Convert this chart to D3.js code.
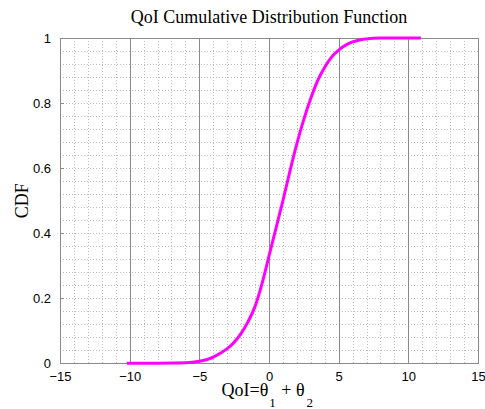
<!DOCTYPE html>
<html>
<head>
<meta charset="utf-8">
<script src="https://cdn.jsdelivr.net/npm/d3@7"></script>
<style>
  html, body { margin: 0; padding: 0; background: #fff; }
  svg { display: block; }
</style>
</head>
<body>
<svg id="chart" width="485" height="409"></svg>
<script>
// Empirical CDF of the quantity of interest
const qoiValues = [-10.2, -8, -6.5, -5.5, -5, -4.5, -4, -3.5, -3, -2.5, -2, -1.5, -1, -0.5, 0, 0.5, 1, 1.5, 2, 2.5, 3, 3.5, 4, 4.5, 5, 5.5, 6, 6.5, 7, 7.5, 8, 9, 10.9];
const cdfValues = [0, 0.0005, 0.001, 0.003, 0.006, 0.011, 0.019, 0.031, 0.045, 0.065, 0.092, 0.128, 0.175, 0.245, 0.33, 0.415, 0.50, 0.59, 0.675, 0.75, 0.815, 0.87, 0.91, 0.942, 0.963, 0.978, 0.988, 0.994, 0.997, 0.999, 1, 1, 1];

const xTicks = [-15, -10, -5, 0, 5, 10, 15];
const yTicks = [0, 0.2, 0.4, 0.6, 0.8, 1];
const xMinorGrid = d3.range(-15, 15.01, 1);
const yMinorGrid = d3.range(0, 1.001, 0.04);
const xMajorLines = [-10, -5, 0, 5, 10];

const svg = d3.select("#chart");
const plotLeft = 60, plotRight = 478, plotTop = 38, plotBottom = 363.3;

const x = d3.scaleLinear().domain([-15, 15]).range([plotLeft, plotRight]);
const y = d3.scaleLinear().domain([0, 1]).range([plotBottom, plotTop]);

// dotted minor grid
const grid = svg.append("g");
grid.selectAll(".vg").data(xMinorGrid).join("line")
  .attr("x1", d => Math.round(x(d)) + 0.5).attr("x2", d => Math.round(x(d)) + 0.5)
  .attr("y1", plotTop).attr("y2", plotBottom)
  .attr("stroke", "#bcbcbc").attr("stroke-width", 1).attr("stroke-dasharray", "1,2");
grid.selectAll(".hg").data(yMinorGrid).join("line")
  .attr("y1", d => Math.round(y(d)) + 0.5).attr("y2", d => Math.round(y(d)) + 0.5)
  .attr("x1", plotLeft).attr("x2", plotRight)
  .attr("stroke", "#bcbcbc").attr("stroke-width", 1).attr("stroke-dasharray", "1,2");

// solid vertical reference lines
svg.append("g").selectAll("line").data(xMajorLines).join("line")
  .attr("x1", d => Math.round(x(d)) + 0.5).attr("x2", d => Math.round(x(d)) + 0.5)
  .attr("y1", plotTop).attr("y2", plotBottom)
  .attr("stroke", "#8a8a8a").attr("stroke-width", 1);

// axes box
svg.append("rect")
  .attr("x", plotLeft + 0.5).attr("y", Math.round(plotTop) + 0.5)
  .attr("width", plotRight - plotLeft).attr("height", Math.round(plotBottom) - Math.round(plotTop))
  .attr("fill", "none").attr("stroke", "#8a8a8a").attr("stroke-width", 1);

const xAxis = d3.axisBottom(x).tickValues(xTicks).tickSize(0).tickPadding(8).tickFormat(d3.format("d"));
const yAxis = d3.axisLeft(y).tickValues(yTicks).tickSize(0).tickPadding(9).tickFormat(d => d === 0 || d === 1 ? d3.format("d")(d) : d3.format(".1f")(d));

const gx = svg.append("g").attr("transform", `translate(0,${plotBottom})`).call(xAxis);
const gy = svg.append("g").attr("transform", `translate(${plotLeft},0)`).call(yAxis);
[gx, gy].forEach(g => {
  g.select(".domain").remove();
  g.selectAll("text").attr("font-family", "'Liberation Sans', Arial, sans-serif")
    .attr("font-size", 13).attr("fill", "#000");
});

// small inward tick marks
svg.append("g").selectAll("line").data(yTicks).join("line")
  .attr("x1", plotLeft).attr("x2", plotLeft + 4)
  .attr("y1", d => Math.round(y(d)) + 0.5).attr("y2", d => Math.round(y(d)) + 0.5)
  .attr("stroke", "#8a8a8a");
svg.append("g").selectAll("line").data(xTicks).join("line")
  .attr("y1", plotBottom).attr("y2", plotBottom - 4)
  .attr("x1", d => Math.round(x(d)) + 0.5).attr("x2", d => Math.round(x(d)) + 0.5)
  .attr("stroke", "#8a8a8a");

// CDF curve
const pts = qoiValues.map((v, i) => [v, cdfValues[i]]);
svg.append("path").datum(pts)
  .attr("d", d3.line().x(d => x(d[0])).y(d => y(d[1])).curve(d3.curveMonotoneX))
  .attr("fill", "none").attr("stroke", "#ff00ff").attr("stroke-width", 3)
  .attr("stroke-linejoin", "round");

// title and axis labels
const serif = "'Liberation Serif', 'Times New Roman', serif";
svg.append("text").attr("x", (plotLeft + plotRight) / 2).attr("y", 23)
  .attr("text-anchor", "middle").attr("font-family", serif).attr("font-size", 18)
  .text("QoI Cumulative Distribution Function");

svg.append("text").attr("transform", `translate(28,${(plotTop + plotBottom) / 2}) rotate(-90)`)
  .attr("text-anchor", "middle").attr("font-family", serif).attr("font-size", 18)
  .text("CDF");

const xl = svg.append("text").attr("x", 221.5).attr("y", 396)
  .attr("font-family", serif).attr("font-size", 18);
xl.append("tspan").text("QoI=θ");
xl.append("tspan").attr("font-size", 13).attr("dx", 1).attr("dy", 11).text("1");
xl.append("tspan").attr("dx", 1).attr("dy", -11).text(" + θ");
xl.append("tspan").attr("font-size", 13).attr("dx", 2).attr("dy", 11).text("2");
</script>
</body>
</html>
